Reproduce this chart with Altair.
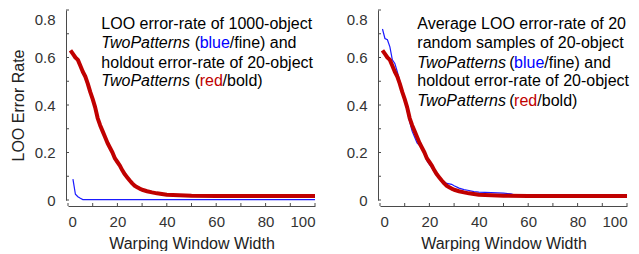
import altair as alt
import pandas as pd

# ---- data ----
# holdout error-rate of 20-object TwoPatterns (red / bold), same in both panels
red_x = [1, 2, 3, 4, 5, 6, 7, 8, 9, 10, 11, 12, 13, 14, 15, 16, 17, 18, 19, 20,
         21, 22, 23, 24, 25, 26, 27, 28, 29, 30, 32, 34, 36, 38, 40, 45, 50, 60,
         70, 80, 90, 100]
red_y = [0.63, 0.615, 0.60, 0.59, 0.565, 0.54, 0.52, 0.49, 0.455, 0.425,
         0.39, 0.345, 0.315, 0.29, 0.265, 0.24, 0.22, 0.20, 0.175, 0.16,
         0.145, 0.125, 0.108, 0.095, 0.082, 0.07, 0.06, 0.054, 0.048, 0.043,
         0.037, 0.032, 0.028, 0.025, 0.022, 0.02, 0.018, 0.017, 0.017, 0.017,
         0.017, 0.017]

# LOO error-rate of 1000-object TwoPatterns (blue / fine), left panel
blue1_x = [2, 3, 4, 5, 6, 100]
blue1_y = [0.088, 0.024, 0.014, 0.007, 0.002, 0.002]

# average LOO error-rate of 20 random samples (blue / fine), right panel
blue2_x = [1, 2, 3, 4, 5, 6, 7, 8, 9, 10, 11, 12, 13, 14, 15, 16, 17, 18, 19,
           20, 21, 22, 23, 24, 25, 26, 27, 28, 29, 30, 32, 34, 36, 38, 40, 45,
           50, 53, 55, 60, 70, 80, 90, 99, 100]
blue2_y = [0.72, 0.68, 0.675, 0.645, 0.59, 0.575, 0.54, 0.50, 0.465, 0.42,
           0.375, 0.33, 0.29, 0.265, 0.24, 0.23, 0.22, 0.195, 0.165, 0.15,
           0.135, 0.118, 0.105, 0.095, 0.085, 0.077, 0.07, 0.068, 0.066, 0.06,
           0.05, 0.044, 0.04, 0.035, 0.033, 0.031, 0.029, 0.026, 0.02, 0.018,
           0.017, 0.017, 0.017, 0.018, 0.022]

ylabel_vals = [0, 0.2, 0.4, 0.6, 0.8]
ytick_vals = [0, 0.1, 0.2, 0.3, 0.4, 0.5, 0.6, 0.7, 0.8]
xlabel_vals = [0, 20, 40, 60, 80, 100]
xtick_vals = [0, 10, 20, 30, 40, 50, 60, 70, 80, 90, 100]

x_title = "Warping Window Width"
y_title = "LOO Error Rate"

# annotation text segments: (text, x, y, colour, italic)
notes_left = [
    ("LOO error-rate of 1000-object", 13.5, 0.741, "#000000", False),
    ("TwoPatterns", 13.5, 0.660, "#000000", True),
    ("(", 51.3, 0.660, "#000000", False),
    ("blue", 53.3, 0.660, "#0000ff", False),
    ("/fine) and", 65.5, 0.660, "#000000", False),
    ("holdout error-rate of 20-object", 13.5, 0.577, "#000000", False),
    ("TwoPatterns", 13.5, 0.499, "#000000", True),
    ("(", 51.3, 0.499, "#000000", False),
    ("red", 53.3, 0.499, "#c00000", False),
    ("/bold)", 62.6, 0.499, "#000000", False),
]
notes_right = [
    ("Average LOO error-rate of 20", 15.1, 0.741, "#000000", False),
    ("random samples of 20-object", 15.1, 0.660, "#000000", False),
    ("TwoPatterns", 15.1, 0.577, "#000000", True),
    ("(", 52.3, 0.577, "#000000", False),
    ("blue", 54.3, 0.577, "#0000ff", False),
    ("/fine) and", 66.5, 0.577, "#000000", False),
    ("holdout error-rate of 20-object", 15.1, 0.499, "#000000", False),
    ("TwoPatterns", 15.1, 0.416, "#000000", True),
    ("(", 52.3, 0.416, "#000000", False),
    ("red", 54.3, 0.416, "#c00000", False),
    ("/bold)", 63.7, 0.416, "#000000", False),
]

W, H = 247, 190
FONT = "Liberation Sans"
AXIS_COLOR = "#4a4a4a"
RED = "#c00000"
BLUE = "#1a1aff"

xs = alt.Scale(domain=[0, 100], nice=False, zero=False)
ys = alt.Scale(domain=[0, 0.8], nice=False)


def panel(bx, by, notes, show_ytitle):
    red_df = pd.DataFrame({"x": red_x, "y": red_y})
    blue_df = pd.DataFrame({"x": bx, "y": by})

    xaxis = alt.Axis(values=xlabel_vals, title=x_title, offset=6, ticks=False,
                     tickSize=0, labelPadding=8, titlePadding=6, grid=False,
                     labelFontSize=15, titleFontSize=16, labelFont=FONT,
                     titleFont=FONT, labelColor="#333333", titleColor="#222222",
                     titleFontWeight="normal", domainColor=AXIS_COLOR)
    yaxis_kwargs = dict(values=ylabel_vals, offset=2, ticks=False, tickSize=0,
                        labelPadding=11, grid=False, labelFontSize=15,
                        labelFont=FONT, labelColor="#333333",
                        domainColor=AXIS_COLOR,
                        labelExpr="datum.value == 0 ? '0' : format(datum.value, '.1f')",
                        labelOffset={"condition": {"test": "datum.value >= 0.79", "value": 9}, "value": 0})
    if show_ytitle:
        yaxis = alt.Axis(title=y_title, titlePadding=8, titleFontSize=16,
                         titleFont=FONT, titleColor="#222222",
                         titleFontWeight="normal", **yaxis_kwargs)
    else:
        yaxis = alt.Axis(title=None, **yaxis_kwargs)

    blue = alt.Chart(blue_df).mark_line(color=BLUE, strokeWidth=1.2).encode(
        x=alt.X("x:Q", scale=xs, axis=xaxis),
        y=alt.Y("y:Q", scale=ys, axis=yaxis),
    )
    red = alt.Chart(red_df).mark_line(color=RED, strokeWidth=4,
                                      strokeJoin="round").encode(
        x=alt.X("x:Q", scale=xs),
        y=alt.Y("y:Q", scale=ys),
    )
    yt = alt.Chart(pd.DataFrame({"y": ytick_vals})).mark_rule(
        color=AXIS_COLOR, strokeWidth=1).encode(
        y=alt.Y("y:Q", scale=ys),
        x=alt.value(-2), x2=alt.value(1),
    )
    xt = alt.Chart(pd.DataFrame({"x": xtick_vals})).mark_rule(
        color=AXIS_COLOR, strokeWidth=1).encode(
        x=alt.X("x:Q", scale=xs),
        y=alt.value(H + 6), y2=alt.value(H + 3),
    )
    nd = pd.DataFrame(notes, columns=["t", "x", "y", "c", "it"])
    normal = alt.Chart(nd[~nd["it"]]).mark_text(
        align="left", baseline="middle", font=FONT, fontSize=16).encode(
        x=alt.X("x:Q", scale=xs),
        y=alt.Y("y:Q", scale=ys),
        text="t:N",
        color=alt.Color("c:N", scale=None),
    )
    italic = alt.Chart(nd[nd["it"]]).mark_text(
        align="left", baseline="middle", font=FONT, fontSize=16,
        fontStyle="italic", color="#000000").encode(
        x=alt.X("x:Q", scale=xs),
        y=alt.Y("y:Q", scale=ys),
        text="t:N",
    )
    return alt.layer(blue, red, yt, xt, normal, italic).properties(width=W, height=H)


left = panel(blue1_x, blue1_y, notes_left, True)
right = panel(blue2_x, blue2_y, notes_right, False)

chart = alt.hconcat(left, right, spacing=28).properties(
    padding={"left": 2, "top": 1, "right": 0, "bottom": 0}
).configure_view(stroke=None)

chart.save("out.html", embed_options={"renderer": "svg", "actions": False})
